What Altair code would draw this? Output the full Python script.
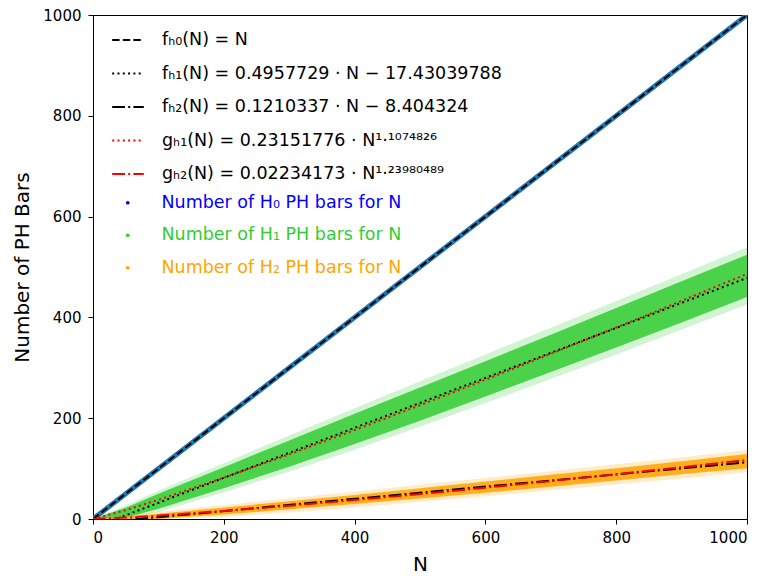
import altair as alt
import pandas as pd

# ---------------- data ----------------
N_END = [0, 1000]
F_H0 = [0, 1000]
F_H1 = [-17.43, 478.34]
F_H2 = [-8.40, 112.63]

N_GRID = [0, 50, 100, 200, 300, 400, 500, 600, 700, 800, 900, 1000]
G_H1 = [0, 17.63, 37.98, 81.83, 128.2, 176.3, 225.8, 276.3, 327.7, 379.9, 432.9, 486.4]
G_H2 = [0, 2.85, 6.74, 15.92, 26.32, 37.60, 49.58, 62.16, 75.25, 88.79, 102.75, 117.09]

# scatter clouds: dense core and sparse outer envelope
H1_DENSE_LO = [0, 2.5, 20.1, 60.8, 103.8, 148.6, 195.1, 243.2, 291.7, 340.5, 389.8, 440.4]
H1_DENSE_HI = [0, 22.5, 50.1, 102.8, 155.8, 208.6, 261.1, 313.2, 365.7, 418.5, 471.8, 524.4]
H1_OUTER_LO = [0, 0, 14.1, 52.8, 93.8, 137.6, 183.1, 230.2, 277.7, 326.5, 375.8, 425.4]
H1_OUTER_HI = [0, 27.5, 56.1, 110.8, 165.8, 219.6, 273.1, 326.2, 379.7, 432.5, 485.8, 539.4]
H2_DENSE_LO = [0, 0, 0.2, 8.9, 19.1, 29.8, 40.8, 52.2, 63.8, 76.6, 88.6, 100.9]
H2_DENSE_HI = [0, 4.5, 10.2, 22.9, 35.1, 47.8, 60.8, 74.2, 87.8, 100.6, 114.6, 128.9]
H2_OUTER_LO = [0, 0, 0, 3.9, 13.1, 22.8, 33.8, 45.2, 56.8, 68.6, 80.6, 92.9]
H2_OUTER_HI = [0, 7.5, 14.2, 27.9, 41.1, 54.8, 67.8, 81.2, 94.8, 108.6, 122.6, 136.9]

LAB_F0 = "fₕ₀(N) = N"
LAB_F1 = "fₕ₁(N) = 0.4957729 · N − 17.43039788"
LAB_F2 = "fₕ₂(N) = 0.1210337 · N − 8.404324"
LAB_G1 = "gₕ₁(N) = 0.23151776 · N¹·¹⁰⁷⁴⁸²⁶"
LAB_G2 = "gₕ₂(N) = 0.02234173 · N¹·²³⁹⁸⁰⁴⁸⁹"
LINE_LABELS = [LAB_F0, LAB_F1, LAB_F2, LAB_G1, LAB_G2]
LINE_COLORS = ["black", "black", "black", "red", "red"]
DASH_DASHED = [7.4, 3.2]
DASH_DOT = [2, 3.3]
DASH_DASHDOT = [12.8, 3.2, 2, 3.2]
LINE_DASHES = [DASH_DASHED, DASH_DOT, DASH_DASHDOT, DASH_DOT, DASH_DASHDOT]

LAB_S0 = "Number of H₀ PH bars for N"
LAB_S1 = "Number of H₁ PH bars for N"
LAB_S2 = "Number of H₂ PH bars for N"
SCAT_LABELS = [LAB_S0, LAB_S1, LAB_S2]
SCAT_COLORS = ["blue", "#32cd32", "#ffa500"]

TICKS = [0, 200, 400, 600, 800, 1000]
FONT = "DejaVu Sans"

# ---------------- tables ----------------
rows = []
for lab, ys in [(LAB_F0, F_H0), (LAB_F1, F_H1), (LAB_F2, F_H2)]:
    for n, y in zip(N_END, ys):
        rows.append({"N": n, "y": y, "fit": lab})
for lab, ys in [(LAB_G1, G_H1), (LAB_G2, G_H2)]:
    for n, y in zip(N_GRID, ys):
        rows.append({"N": n, "y": y, "fit": lab})
lines_df = pd.DataFrame(rows)

h0_df = pd.DataFrame({"N": N_END, "y": F_H0})


def band(lo_h1, hi_h1, lo_h2, hi_h2):
    r = []
    for lab, lo, hi in [(LAB_S1, lo_h1, hi_h1), (LAB_S2, lo_h2, hi_h2)]:
        for n, a, b in zip(N_GRID, lo, hi):
            r.append({"N": n, "lo": a, "hi": b, "series": lab})
    return pd.DataFrame(r)


outer_df = band(H1_OUTER_LO, H1_OUTER_HI, H2_OUTER_LO, H2_OUTER_HI)
dense_df = band(H1_DENSE_LO, H1_DENSE_HI, H2_DENSE_LO, H2_DENSE_HI)

# ---------------- scales / axes ----------------
xscale = alt.Scale(domain=[0, 1000], nice=False)
yscale = alt.Scale(domain=[0, 1000], nice=False)
axis_common = dict(
    values=TICKS, format="d", grid=False, tickSize=5, tickColor="black", domainColor="black",
    labelColor="black", titleColor="black", labelFont=FONT, titleFont=FONT,
    labelFontSize=15, titleFontSize=20, titleFontWeight="normal",
)
xaxis = alt.Axis(title="N", labelPadding=6, titlePadding=9, **axis_common)
yaxis = alt.Axis(title="Number of PH Bars", labelPadding=7, titlePadding=10, **axis_common)

X = alt.X("N:Q", scale=xscale, axis=xaxis)

scat_color = alt.Color(
    "series:N",
    scale=alt.Scale(domain=SCAT_LABELS, range=SCAT_COLORS),
    legend=alt.Legend(
        title=None, orient="none", legendX=20, legendY=179,
        symbolType="circle", symbolSize=14, symbolOpacity=1, symbolStrokeWidth=0,
        symbolOffset=6, labelOffset=25,
        labelFont=FONT, labelFontSize=17.5, labelFontWeight="normal", labelLimit=600,
        rowPadding=13.5, padding=0,
        labelColor=alt.ExprRef(
            "datum.index == 0 ? 'blue' : datum.index == 1 ? '#32cd32' : '#ffa500'"
        ),
    ),
)

outer = alt.Chart(outer_df).mark_area(opacity=0.22).encode(
    x=X, y=alt.Y("lo:Q", scale=yscale, axis=yaxis), y2="hi:Q", color=scat_color
)
dense = alt.Chart(dense_df).mark_area(opacity=0.85).encode(
    x=X, y=alt.Y("lo:Q", scale=yscale, axis=yaxis), y2="hi:Q", color=scat_color
)
scatter = alt.layer(outer, dense)

h0 = alt.Chart(h0_df).mark_line(color="#1f77b4", strokeWidth=5, clip=True).encode(
    x=X, y=alt.Y("y:Q", scale=yscale, axis=yaxis)
)

line_legend = alt.Legend(
    title=None, orient="none", legendX=18, legendY=8,
    symbolType="stroke", symbolSize=1000, symbolStrokeWidth=2,
    labelFont=FONT, labelFontSize=17.5, labelFontWeight="normal", labelLimit=600, labelOffset=17,
    rowPadding=7.5, padding=0, labelColor="black",
)
lines = alt.Chart(lines_df).mark_line(strokeWidth=2, clip=True).encode(
    x=X,
    y=alt.Y("y:Q", scale=yscale, axis=yaxis),
    color=alt.Color("fit:N", scale=alt.Scale(domain=LINE_LABELS, range=LINE_COLORS), legend=line_legend),
    strokeDash=alt.StrokeDash("fit:N", scale=alt.Scale(domain=LINE_LABELS, range=LINE_DASHES), legend=line_legend),
)

chart = (
    alt.layer(h0, scatter, lines)
    .resolve_scale(color="independent", strokeDash="independent")
    .properties(
        width=654, height=504, autosize="none",
        padding={"left": 93, "top": 15, "right": 28, "bottom": 57},
    )
    .configure_view(stroke="black", strokeWidth=1)
)

chart.save("out.html", embed_options={"renderer": "svg", "actions": False})
